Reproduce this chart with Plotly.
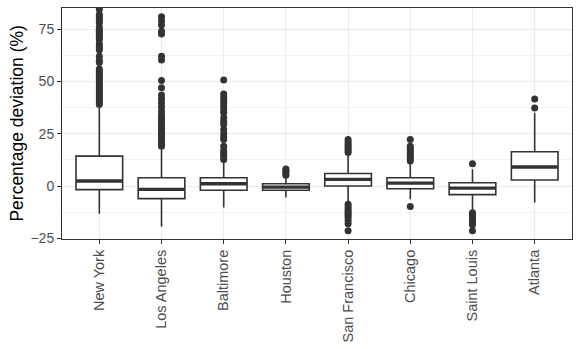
import plotly.graph_objects as go

cities = ["New York", "Los Angeles", "Baltimore", "Houston",
          "San Francisco", "Chicago", "Saint Louis", "Atlanta"]

# box statistics (percentage deviation)
q1 = [-1.7, -6.0, -2.0, -2.0, 0.0, -1.3, -4.1, 2.9]
median = [2.4, -1.6, 1.1, -0.5, 3.2, 1.4, -1.0, 9.1]
q3 = [14.3, 4.0, 4.0, 1.1, 6.0, 4.0, 1.6, 16.4]
lower_whisker = [-13.2, -19.5, -10.3, -5.5, -7.9, -6.3, -11.9, -7.9]
upper_whisker = [37.3, 17.5, 11.6, 4.3, 15.0, 11.1, 8.0, 35.0]

# outliers per city
ny_out = [39, 40, 41, 42, 43, 44, 45, 46, 47, 48, 49, 50, 51, 52, 53, 54, 55, 56,
          59, 60, 62, 65, 66, 67, 68, 70, 71, 72, 73, 74, 75, 76,
          78, 79, 80, 81, 82, 84.5]
la_out = [19, 20, 21, 22, 23, 24, 25, 26, 27, 28, 29, 30, 31, 32, 33, 34, 35.7,
          37.8, 39.7, 41.6, 43.5, 47, 50.5, 60.2, 62.1, 72.7, 74, 77, 79, 80.9]
bal_out = [12.7, 14, 15, 16, 17, 19, 22.2, 23.5, 25, 27, 29.4, 31, 32.6,
           35, 36.5, 38, 39.5, 41, 42.5, 44, 50.7]
hou_out = [5.2, 6, 6.8, 7.5, 8.2]
sf_out = [16, 17, 18, 19, 20, 21, 22.2,
          -8.7, -10, -11, -12, -13, -14, -15, -16.5, -18, -21.4]
chi_out = [12, 13, 14, 15, 16, 17, 18, 19, 22.2, -9.8]
stl_out = [10.7, -12.7, -13.5, -14.5, -15.5, -16.5, -17.5, -18.5, -21.4]
atl_out = [37.3, 41.6]

outliers = [ny_out, la_out, bal_out, hou_out, sf_out, chi_out, stl_out, atl_out]

ink = "#333333"
font_family = "Liberation Sans, Arial, sans-serif"

fig = go.Figure()

fig.add_trace(go.Box(
    x=cities, q1=q1, median=median, q3=q3,
    lowerfence=lower_whisker, upperfence=upper_whisker,
    boxpoints=False, width=0.75, whiskerwidth=0,
    fillcolor="white", line=dict(color=ink, width=1.6),
    hoverinfo="skip", showlegend=False,
))

# thicker median bar, like ggplot's fatten
fig.add_trace(go.Box(
    x=cities, q1=median, median=median, q3=median,
    lowerfence=median, upperfence=median,
    boxpoints=False, width=0.75, whiskerwidth=0,
    fillcolor="rgba(0,0,0,0)", line=dict(color=ink, width=3.4),
    hoverinfo="skip", showlegend=False,
))

out_x = [c for c, vals in zip(cities, outliers) for _ in vals]
out_y = [v for vals in outliers for v in vals]
fig.add_trace(go.Scatter(
    x=out_x, y=out_y, mode="markers",
    marker=dict(color=ink, size=7, line=dict(width=0)),
    hoverinfo="skip", showlegend=False,
))

fig.update_layout(
    width=581, height=349,
    margin=dict(l=62, r=9, t=8, b=110, autoexpand=False),
    paper_bgcolor="white", plot_bgcolor="white",
    font=dict(family=font_family),
    boxmode="overlay",
)
# y axis title, placed like ggplot's
fig.add_annotation(
    text="Percentage deviation (%)", textangle=-90,
    xref="paper", yref="paper", x=-0.09, y=0.5,
    xanchor="center", yanchor="middle", showarrow=False,
    font=dict(size=17.5, color="black"),
)
fig.update_xaxes(
    automargin=False,
    type="category", categoryorder="array", categoryarray=cities,
    range=[-0.6, 7.6], tickangle=-90,
    tickfont=dict(size=14.5, color="#4D4D4D"),
    showgrid=True, gridcolor="#EBEBEB", gridwidth=1,
    showline=True, linecolor=ink, linewidth=1, mirror=True,
    ticks="outside", ticklen=4, tickcolor=ink, tickwidth=1,
    zeroline=False,
)
fig.update_yaxes(
    automargin=False,
    range=[-25.3, 85.1], tickvals=[-25, 0, 25, 50, 75],
    ticktext=["\u221225", "0", "25", "50", "75"],
    tickfont=dict(size=14, color="#4D4D4D"),
    showgrid=True, gridcolor="#EBEBEB", gridwidth=1,
    minor=dict(tickvals=[-12.5, 12.5, 37.5, 62.5], showgrid=True,
               gridcolor="#F2F2F2", gridwidth=0.6),
    showline=True, linecolor=ink, linewidth=1, mirror=True,
    ticks="outside", ticklen=4, tickcolor=ink, tickwidth=1,
    zeroline=False,
)

fig.write_html("out.html", config={"displayModeBar": False},
               post_script="document.body.style.margin='0';")
